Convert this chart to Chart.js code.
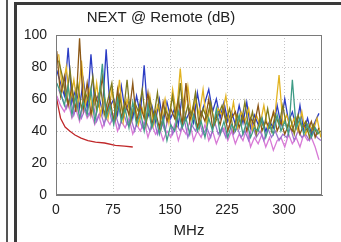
<!DOCTYPE html>
<html>
<head>
<meta charset="utf-8">
<script src="https://cdn.jsdelivr.net/npm/chart.js@4.4.1/dist/chart.umd.min.js"></script>
<style>
  html, body { margin: 0; padding: 0; background: #fff; }
  #wrap { position: relative; width: 341px; height: 242px; overflow: hidden; }
  #chart { position: absolute; left: 0; top: 0; }
  .edge { position: absolute; background: #3a3a3a; pointer-events: none; }
</style>
</head>
<body>
<div id="wrap">
  <canvas id="chart" width="341" height="242"></canvas>
  <div class="edge" style="left:6px; top:0; width:2px; height:242px; background:#555;"></div>
  <div class="edge" style="left:14px; top:2px; width:3px; height:240px;"></div>
  <div class="edge" style="left:14px; top:2px; width:327px; height:3px;"></div>
</div>
<script>
"use strict";

const TITLE = "NEXT @ Remote (dB)";
const X_TITLE = "MHz";

// two interleaved frequency grids (MHz) for the measured pairs
const freqs = [
  1, 6, 11, 16, 21, 26, 31, 36, 41, 46, 51, 56, 61, 66, 71, 76, 81, 86, 91, 96,
  101, 106, 111, 116, 121, 126, 131, 136, 141, 146, 151, 156, 161, 166, 171, 176, 181, 186, 191, 196,
  201, 206, 211, 216, 221, 226, 231, 236, 241, 246, 251, 256, 261, 266, 271, 276, 281, 286, 291, 296,
  301, 306, 311, 316, 321, 326, 331, 336, 341, 346,
];
const freqsB = [
  3.5, 8.5, 13.5, 18.5, 23.5, 28.5, 33.5, 38.5, 43.5, 48.5, 53.5, 58.5, 63.5, 68.5, 73.5, 78.5, 83.5, 88.5, 93.5, 98.5,
  103.5, 108.5, 113.5, 118.5, 123.5, 128.5, 133.5, 138.5, 143.5, 148.5, 153.5, 158.5, 163.5, 168.5, 173.5, 178.5, 183.5, 188.5, 193.5, 198.5,
  203.5, 208.5, 213.5, 218.5, 223.5, 228.5, 233.5, 238.5, 243.5, 248.5, 253.5, 258.5, 263.5, 268.5, 273.5, 278.5, 283.5, 288.5, 293.5, 298.5,
  303.5, 308.5, 313.5, 318.5, 323.5, 328.5, 333.5, 338.5, 343.5, 348.5,
];

const tealValues = [
  70, 64, 56, 68, 50, 62, 48, 58, 50, 66, 46, 58, 82, 48, 56, 44, 60, 46, 54, 42,
  58, 44, 52, 40, 56, 42, 50, 38, 48, 34, 44, 40, 52, 42, 48, 38, 50, 40, 46, 36,
  48, 40, 54, 38, 46, 36, 44, 40, 50, 38, 46, 36, 42, 40, 48, 36, 44, 38, 50, 40,
  46, 38, 72, 42, 48, 38, 44, 36, 42, 38,
];
const oliveValues = [
  84, 74, 60, 78, 56, 70, 54, 64, 58, 74, 52, 68, 50, 60, 70, 48, 62, 50, 72, 46,
  58, 52, 66, 44, 60, 48, 64, 42, 54, 48, 62, 44, 70, 46, 56, 50, 64, 42, 54, 48,
  58, 44, 50, 56, 46, 54, 40, 50, 44, 58, 42, 52, 38, 48, 42, 54, 40, 50, 44, 56,
  42, 48, 38, 50, 42, 46, 36, 44, 38, 40,
];
const brownValues = [
  90, 62, 74, 56, 68, 52, 98, 54, 70, 50, 64, 56, 74, 50, 60, 46, 66, 48, 58, 50,
  70, 46, 56, 48, 64, 44, 52, 42, 58, 46, 54, 48, 60, 44, 70, 46, 56, 42, 52, 46,
  60, 42, 50, 44, 54, 40, 48, 52, 42, 50, 40, 48, 44, 56, 40, 46, 42, 52, 40, 46,
  38, 44, 40, 48, 38, 44, 40, 46, 36, 42,
];
const goldValues = [
  88, 66, 80, 58, 72, 55, 84, 56, 66, 52, 70, 50, 62, 48, 66, 50, 72, 46, 60, 48,
  58, 44, 54, 46, 62, 44, 56, 48, 60, 45, 66, 50, 79, 52, 68, 48, 60, 50, 66, 44,
  56, 46, 54, 50, 62, 44, 58, 42, 52, 46, 54, 40, 50, 44, 56, 42, 48, 52, 75, 44,
  50, 42, 48, 40, 52, 38, 44, 40, 48, 36,
];
const blueValues = [
  78, 70, 62, 92, 58, 66, 55, 72, 54, 88, 57, 63, 52, 91, 55, 60, 50, 68, 52, 58,
  48, 62, 50, 81, 49, 56, 46, 60, 45, 58, 48, 54, 44, 62, 47, 52, 45, 64, 50, 58,
  66, 52, 60, 48, 58, 46, 52, 44, 56, 45, 58, 42, 50, 44, 48, 40, 46, 42, 56, 44,
  60, 46, 52, 42, 56, 40, 48, 38, 46, 51,
];
const violetValues = [
  66, 60, 54, 62, 50, 58, 48, 54, 50, 58, 46, 52, 44, 56, 46, 50, 42, 52, 44, 48,
  40, 50, 42, 46, 40, 48, 38, 46, 40, 50, 38, 44, 40, 48, 36, 44, 40, 46, 38, 42,
  36, 46, 38, 42, 36, 44, 38, 42, 36, 40, 34, 44, 36, 40, 34, 42, 36, 40, 34, 38,
  36, 42, 34, 40, 36, 38, 34, 40, 36, 34,
];
const pinkValues = [
  62, 56, 52, 58, 48, 54, 46, 56, 48, 52, 44, 50, 42, 48, 44, 50, 40, 46, 42, 48,
  38, 44, 40, 46, 36, 44, 38, 42, 34, 40, 36, 44, 34, 42, 38, 46, 34, 40, 36, 44,
  34, 40, 32, 38, 42, 34, 40, 32, 38, 34, 42, 30, 36, 32, 38, 30, 36, 28, 34, 36,
  30, 38, 32, 36, 30, 38, 34, 36, 30, 22,
];

// limit line
const limitFreqs = [1, 3, 6, 12, 18, 25, 33, 42, 52, 64, 78, 90, 101];
const limitValues = [60, 55, 48, 42.5, 40, 37.5, 35.5, 34, 33, 32.5, 31, 30.5, 30];

const xTicks = [0, 75, 150, 225, 300];
const yTicks = [0, 20, 40, 60, 80, 100];

const FONT = '"Liberation Sans", Arial, sans-serif';

function toPoints(xs, ys) {
  return xs.map((x, index) => ({ x, y: ys[index] }));
}

function lineSet(label, xs, ys, color, width) {
  return {
    label,
    data: toPoints(xs, ys),
    borderColor: color,
    backgroundColor: color,
    borderWidth: width,
    pointRadius: 0,
    tension: 0,
    fill: false,
  };
}

const frameBox = {
  id: "frameBox",
  afterDraw(chart) {
    const { ctx, chartArea } = chart;
    ctx.save();
    ctx.strokeStyle = "#7a7a7a";
    ctx.lineWidth = 1;
    ctx.strokeRect(chartArea.left + 0.5, chartArea.top + 0.5,
      chartArea.right - chartArea.left - 1, chartArea.bottom - chartArea.top - 1);
    ctx.restore();
  },
};

document.addEventListener("DOMContentLoaded", () => {
  const context = document.getElementById("chart").getContext("2d");
  new Chart(context, {
    type: "line",
    data: {
      datasets: [
        lineSet("Teal", freqs, tealValues, "#3f9c86", 1.3),
        lineSet("Olive", freqsB, oliveValues, "#7d7a1f", 1.3),
        lineSet("Brown", freqs, brownValues, "#8c5716", 1.3),
        lineSet("Gold", freqsB, goldValues, "#e2b321", 1.3),
        lineSet("Blue", freqs, blueValues, "#2b3cc4", 1.3),
        lineSet("Violet", freqsB, violetValues, "#a070d0", 1.3),
        lineSet("Pink", freqs, pinkValues, "#d879d6", 1.3),
        lineSet("Limit", limitFreqs, limitValues, "#c0282a", 1.3),
      ],
    },
    options: {
      responsive: false,
      animation: false,
      layout: {
        padding: { left: 0, right: 19, top: 0, bottom: 0 },
      },
      plugins: {
        legend: { display: false },
        tooltip: { enabled: false },
        title: {
          display: true,
          text: TITLE,
          color: "#222",
          font: { family: FONT, size: 15, weight: "normal" },
          padding: { top: 9, bottom: 8 },
        },
      },
      scales: {
        x: {
          type: "linear",
          min: 0,
          max: 350,
          afterBuildTicks: (scale) => {
            scale.ticks = xTicks.map((value) => ({ value }));
          },
          afterFit: (scale) => {
            scale.height = 47;
          },
          ticks: {
            color: "#222",
            font: { family: FONT, size: 14 },
            padding: 7,
            maxRotation: 0,
          },
          grid: {
            color: (c) => (c.tick && c.tick.value === 0 ? "rgba(0,0,0,0)" : "#c4c4c4"),
            lineWidth: 1,
            drawTicks: false,
          },
          border: { display: true, color: "#7a7a7a", width: 1, dash: [1, 2] },
          title: {
            display: true,
            text: X_TITLE,
            color: "#222",
            font: { family: FONT, size: 15 },
            padding: { top: 0, bottom: 2 },
          },
        },
        y: {
          min: 0,
          max: 100,
          afterBuildTicks: (scale) => {
            scale.ticks = yTicks.map((value) => ({ value }));
          },
          afterFit: (scale) => {
            scale.width = 56;
          },
          ticks: {
            color: "#222",
            font: { family: FONT, size: 14 },
            padding: 9,
          },
          grid: {
            color: (c) => (c.tick && (c.tick.value === 0 || c.tick.value === 100) ? "rgba(0,0,0,0)" : "#c4c4c4"),
            lineWidth: 1,
            drawTicks: false,
          },
          border: { display: true, color: "#7a7a7a", width: 1, dash: [1, 2] },
        },
      },
    },
    plugins: [frameBox],
  });
});
</script>
</body>
</html>
